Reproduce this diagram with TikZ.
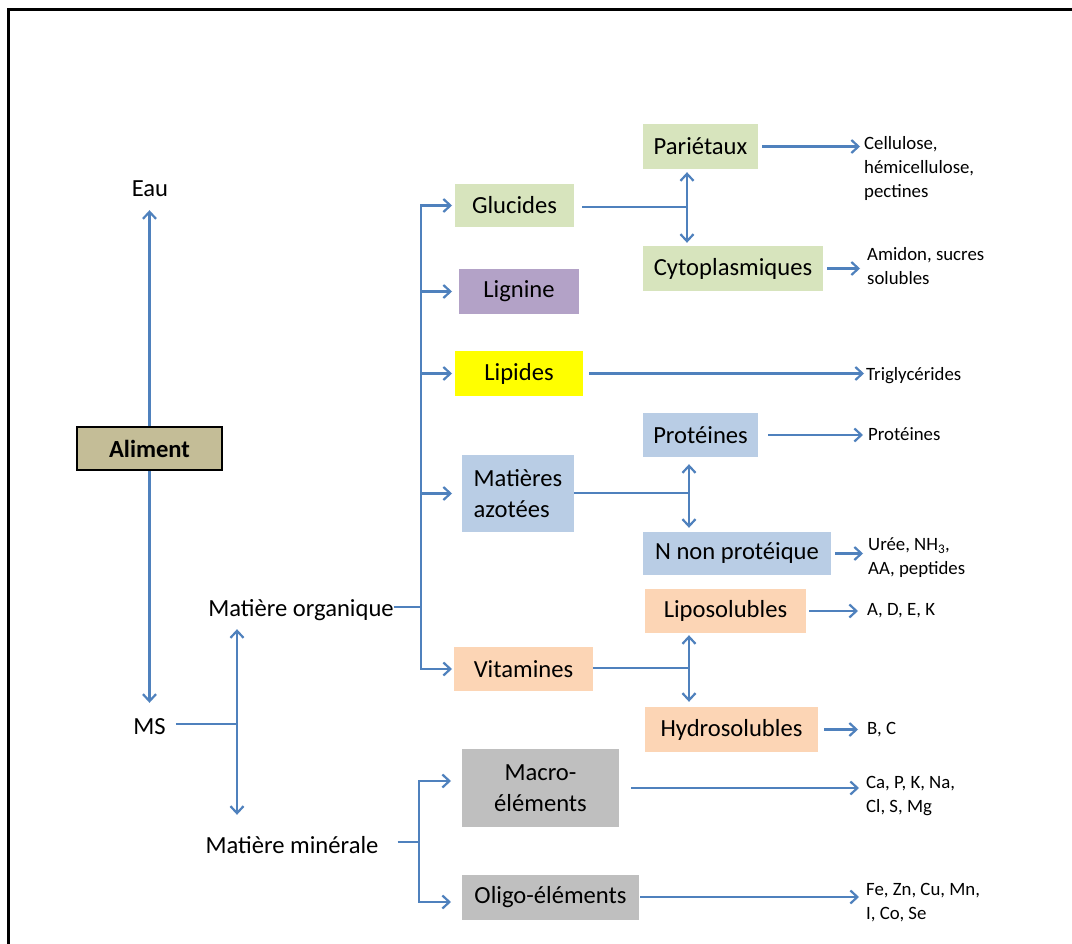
\documentclass[tikz,border=0pt]{standalone}
\usepackage{fontspec}
\setmainfont{Carlito}
\usetikzlibrary{arrows.meta}
\definecolor{arrblue}{HTML}{4F81BD}
\definecolor{cgre}{HTML}{D7E4BD}
\definecolor{cpur}{HTML}{B3A2C7}
\definecolor{cyel}{HTML}{FFFF00}
\definecolor{cblu}{HTML}{B9CDE5}
\definecolor{cpea}{HTML}{FCD5B5}
\definecolor{cgra}{HTML}{BFBFBF}
\definecolor{ckha}{HTML}{C4BD97}
\newcommand\boxfont{\fontsize{24.6}{31}\selectfont}
\newcommand\labfont{\fontsize{18.8}{24}\selectfont}
\begin{document}
\begin{tikzpicture}[x=1pt,y=1pt,
  ln/.style={draw=arrblue, line width=2.2pt},
  arr/.style={ln, -{Straight Barb[length=7pt,width=13pt]}},
  arr2/.style={ln, {Straight Barb[length=7pt,width=13pt]}-{Straight Barb[length=7pt,width=13pt]}},
  box/.style={inner sep=0pt, font=\boxfont, align=center},
  txt/.style={inner sep=0pt, font=\boxfont, text height=17pt, text depth=5pt, anchor=base},
  lab/.style={inner sep=0pt, font=\labfont, align=left, anchor=west}]
\useasboundingbox (0,0) rectangle (1072,-944);
\fill[white] (0,0) rectangle (1072,-944);
\draw[line width=3pt] (8,-944) -- (8,-10) -- (1072,-10);

% main nodes
\node[box, fill=ckha, draw=black, line width=2pt, minimum width=145pt, minimum height=43pt, font=\boxfont\bfseries] (ali) at (149.5,-448.5) {Aliment};
\node[txt] (eau) at (150,-197) {Eau};
\node[txt] (ms) at (149.5,-734) {MS};
\node[txt] (mo) at (301,-616) {Matière organique};
\node[txt] (mm) at (292,-853) {Matière minérale};

% boxes
\node[box, fill=cgre, minimum width=119pt, minimum height=43pt] (glu) at (514.5,-205.5) {Glucides};
\node[box, fill=cgre, minimum width=115pt, minimum height=45pt] (par) at (700.5,-146.5) {Pariétaux};
\node[box, fill=cgre, minimum width=180pt, minimum height=45pt] (cyt) at (733,-268.5) {Cytoplasmiques};
\node[box, fill=cpur, minimum width=120pt, minimum height=45pt] (lig) at (519,-291.5) {Lignine};
\node[box, fill=cyel, minimum width=128pt, minimum height=45pt] (lip) at (519,-373.5) {Lipides};
\node[box, fill=cblu, minimum width=112pt, minimum height=77pt, align=left] (maz) at (518,-493.5) {Matières\\azotées};
\node[box, fill=cblu, minimum width=115pt, minimum height=44pt] (pro) at (700.5,-435) {Protéines};
\node[box, fill=cblu, minimum width=188pt, minimum height=43pt] (nnp) at (737,-553.5) {N non protéique};
\node[box, fill=cpea, minimum width=161pt, minimum height=44pt] (lis) at (725.5,-611) {Liposolubles};
\node[box, fill=cpea, minimum width=139pt, minimum height=44pt] (vit) at (523.5,-669) {Vitamines};
\node[box, fill=cpea, minimum width=173pt, minimum height=45pt] (hyd) at (731.5,-729.5) {Hydrosolubles};
\node[box, fill=cgra, minimum width=157pt, minimum height=78pt] (mac) at (540.5,-788) {Macro-\\éléments};
\node[box, fill=cgra, minimum width=177pt, minimum height=45pt] (oli) at (550.5,-897) {Oligo-éléments};

% right labels
\node[lab] (l1) at (864,-168) {Cellulose,\\hémicellulose,\\pectines};
\node[lab] (l2) at (867,-266.5) {Amidon, sucres\\solubles};
\node[lab] (l3) at (866,-376) {Triglycérides};
\node[lab] (l4) at (868,-434) {Protéines};
\node[lab] (l5) at (868,-557.5) {Urée, NH\textsubscript{3},\\AA, peptides};
\node[lab] (l6) at (867,-611) {A, D, E, K};
\node[lab] (l7) at (867,-730) {B, C};
\node[lab] (l8) at (866,-796) {Ca, P, K, Na,\\Cl, S, Mg};
\node[lab] (l9) at (866,-902.5) {Fe, Zn, Cu, Mn,\\I, Co, Se};

% Aliment -> Eau / MS
\draw[arr, shorten >=8pt] (ali.north) -- (ali.north |- eau.south);
\draw[arr, shorten >=14pt] (ali.south) -- (ali.south |- ms.north);

% MS split
\coordinate (msj) at (237,-724);
\draw[ln] ([xshift=10pt]ms.east |- msj) -- (msj);
\draw[arr2, shorten <=8pt, shorten >=21pt] (mo.south -| msj) -- (mm.north -| msj);

% Matiere organique bracket
\coordinate (moj) at (421,-607);
\coordinate (tipx) at (452,0);
\draw[ln] (mo.east |- moj) -- (moj);
\draw[arr] (moj) -- (glu.west -| moj) -- (glu.west -| tipx);
\draw[arr] (moj) -- (vit.west -| moj) -- (vit.west -| tipx);
\draw[arr] (lig.west -| moj) -- (lig.west -| tipx);
\draw[arr] (lip.west -| moj) -- (lip.west -| tipx);
\draw[arr] (maz.west -| moj) -- (maz.west -| tipx);

% Matiere minerale bracket
\coordinate (mmj) at (419,-842);
\coordinate (mmt) at (419,-781);
\coordinate (mmb) at (419,-902);
\coordinate (tipm) at (451,0);
\draw[ln] ([xshift=19pt]mm.east |- mmj) -- (mmj);
\draw[arr] (mmj) -- (mmt) -- (mmt -| tipm);
\draw[arr] (mmj) -- (mmb) -- (mmb -| tipm);

% Glucides split
\coordinate (gj) at (687,-207);
\draw[ln] ([xshift=8pt]glu.east |- gj) -- (gj);
\draw[arr2, shorten <=3pt, shorten >=3pt] (par.south -| gj) -- (cyt.north -| gj);
\draw[arr, shorten <=4pt, shorten >=4pt] (par.east) -- (par.east -| l1.west);
\draw[arr, shorten <=4pt, shorten >=7pt] (cyt.east) -- (cyt.east -| l2.west);

% Lipides
\draw[arr, shorten <=6pt, shorten >=2pt] (lip.east) -- (lip.east -| l3.west);

% Matieres azotees split
\coordinate (mj) at (689,-493);
\draw[ln] (maz.east |- mj) -- (mj);
\draw[arr2, shorten <=7pt, shorten >=4pt] (pro.south -| mj) -- (nnp.north -| mj);
\draw[arr, shorten <=10pt, shorten >=5pt] (pro.east) -- (pro.east -| l4.west);
\draw[arr, shorten <=4pt, shorten >=5pt] (nnp.east) -- (nnp.east -| l5.west);

% Vitamines split
\coordinate (vj) at (689,-668);
\draw[ln] (vit.east |- vj) -- (vj);
\draw[arr2, shorten <=2pt, shorten >=5pt] (lis.south -| vj) -- (hyd.north -| vj);
\draw[arr, shorten <=3pt, shorten >=9pt] (lis.east) -- (lis.east -| l6.west);
\draw[arr, shorten <=6pt, shorten >=9pt] (hyd.east) -- (hyd.east -| l7.west);

% Minerals
\draw[arr, shorten <=12pt, shorten >=7pt] (mac.east) -- (mac.east -| l8.west);
\draw[arr, shorten <=1pt, shorten >=7pt] (oli.east) -- (oli.east -| l9.west);
\end{tikzpicture}
\end{document}
